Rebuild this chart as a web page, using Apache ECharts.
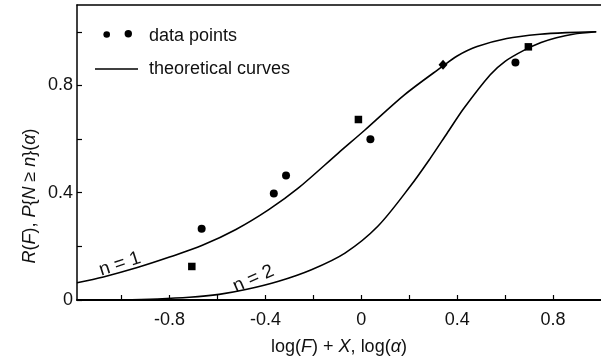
<!DOCTYPE html>
<html>
<head>
<meta charset="utf-8">
<script src="https://cdn.jsdelivr.net/npm/echarts@6/dist/echarts.min.js"></script>
<style>
  html, body { margin: 0; padding: 0; background: #fff; }
  #chart { width: 601px; height: 361px; }
</style>
</head>
<body>
<div id="chart"></div>
<script>
// axis ticks and labels
const xTickValues = [-1.0, -0.8, -0.6, -0.4, -0.2, 0, 0.2, 0.4, 0.6, 0.8];
const xLabelValues = [-0.8, -0.4, 0, 0.4, 0.8];
const yTickValues = [0, 0.2, 0.4, 0.6, 0.8, 1.0];
const yLabelValues = [0, 0.4, 0.8];

// theoretical curve n = 1
const n1X = [-1.186, -1.076, -0.938, -0.8, -0.663, -0.523, -0.386, -0.262, -0.096, 0.014, 0.18, 0.34, 0.4, 0.483, 0.607, 0.745, 0.855, 0.98];
const n1Y = [0.064, 0.086, 0.12, 0.16, 0.204, 0.263, 0.337, 0.418, 0.548, 0.633, 0.765, 0.872, 0.91, 0.945, 0.975, 0.991, 0.997, 1.0];

// theoretical curve n = 2
const n2X = [-1.186, -1.0, -0.85, -0.717, -0.593, -0.482, -0.345, -0.208, -0.068, 0.069, 0.205, 0.289, 0.358, 0.428, 0.538, 0.6, 0.676, 0.75, 0.814, 0.883, 0.98];
const n2Y = [0.0, 0.001, 0.004, 0.01, 0.021, 0.039, 0.07, 0.113, 0.175, 0.275, 0.425, 0.53, 0.622, 0.715, 0.84, 0.89, 0.93, 0.96, 0.978, 0.991, 1.0];

// measured points
const circleX = [-0.666, -0.365, -0.314, 0.038, 0.643];
const circleY = [0.266, 0.397, 0.464, 0.599, 0.886];
const squareX = [-0.707, -0.012, 0.697];
const squareY = [0.125, 0.673, 0.944];
const diamondX = [0.341];
const diamondY = [0.877];

// curve labels
const curveLabels = ["n = 1", "n = 2"];
const curveLabelX = [-1.007, -0.45];
const curveLabelY = [0.134, 0.079];
const curveLabelRot = [18, 24];

const zip = (xs, ys) => xs.map((x, i) => [x, ys[i]]);

const FONT = "Liberation Sans";
const INK = "#000";

const chart = echarts.init(document.getElementById("chart"));

const curveStyle = { color: INK, width: 1.6 };

const option = {
  backgroundColor: "#fff",
  animation: false,
  grid: { left: 77, right: -4.4, top: 5, bottom: 60.5 },
  xAxis: [
    {
      type: "value",
      min: -1.186,
      max: 1.0,
      splitLine: { show: false },
      axisLine: { lineStyle: { color: INK, width: 2 } },
      axisTick: {
        inside: true,
        length: 5,
        customValues: xTickValues,
        lineStyle: { color: INK, width: 1.2 },
      },
      axisLabel: {
        customValues: xLabelValues,
        margin: 11,
        color: "#111",
        fontSize: 18,
        fontFamily: FONT,
        formatter: (v) => String(Math.round(v * 10) / 10),
      },
      name: "log({i|F}) + {i|X}, log({i|α})",
      nameLocation: "middle",
      nameGap: 38,
      nameTextStyle: {
        color: "#111",
        fontSize: 18,
        fontFamily: FONT,
        rich: { i: { fontStyle: "italic", fontSize: 18, fontFamily: FONT, color: "#111" } },
      },
    },
    {
      type: "value",
      position: "top",
      min: -1.186,
      max: 1.0,
      splitLine: { show: false },
      axisLine: { show: true, onZero: false, lineStyle: { color: INK, width: 1.5 } },
      axisTick: { show: false },
      axisLabel: { show: false },
    },
  ],
  yAxis: {
    type: "value",
    min: 0,
    max: 1.1,
    splitLine: { show: false },
    axisLine: { show: true, onZero: false, lineStyle: { color: INK, width: 1.5 } },
    axisTick: {
      inside: true,
      length: 5,
      customValues: yTickValues,
      lineStyle: { color: INK, width: 1.2 },
    },
    axisLabel: {
      customValues: yLabelValues,
      margin: 4,
      color: "#111",
      fontSize: 18,
      fontFamily: FONT,
      formatter: (v) => String(Math.round(v * 10) / 10),
    },
  },
  graphic: [
    // y axis title
    {
      type: "text",
      x: 30,
      y: 196,
      rotation: Math.PI / 2,
      style: {
        text: "{i|R}({i|F}), {i|P}{{i|N} ≥ {i|n}}({i|α})",
        fill: "#111",
        font: "18px " + FONT,
        align: "center",
        verticalAlign: "middle",
        rich: { i: { fontStyle: "italic", fontSize: 18, fontFamily: FONT, fill: "#111" } },
      },
    },
    // legend
    { type: "circle", shape: { cx: 106.7, cy: 34.5, r: 3.3 }, style: { fill: INK } },
    { type: "circle", shape: { cx: 128.3, cy: 33.8, r: 3.7 }, style: { fill: INK } },
    {
      type: "text",
      x: 149,
      y: 36,
      style: { text: "data points", fill: "#111", font: "18px " + FONT, verticalAlign: "middle" },
    },
    { type: "line", shape: { x1: 95, y1: 69, x2: 138, y2: 69 }, style: { stroke: INK, lineWidth: 1.6 } },
    {
      type: "text",
      x: 149,
      y: 69,
      style: { text: "theoretical curves", fill: "#111", font: "18px " + FONT, verticalAlign: "middle" },
    },
  ],
  series: [
    {
      name: "n = 1",
      type: "line",
      data: zip(n1X, n1Y),
      smooth: 0.3,
      showSymbol: false,
      lineStyle: curveStyle,
    },
    {
      name: "n = 2",
      type: "line",
      data: zip(n2X, n2Y),
      smooth: 0.3,
      showSymbol: false,
      lineStyle: curveStyle,
    },
    {
      name: "circles",
      type: "scatter",
      data: zip(circleX, circleY),
      symbol: "circle",
      symbolSize: 8,
      itemStyle: { color: INK, opacity: 1 },
    },
    {
      name: "squares",
      type: "scatter",
      data: zip(squareX, squareY),
      symbol: "rect",
      symbolSize: 7.5,
      itemStyle: { color: INK, opacity: 1 },
    },
    {
      name: "diamonds",
      type: "scatter",
      data: zip(diamondX, diamondY),
      symbol: "diamond",
      symbolSize: [9, 10],
      itemStyle: { color: INK, opacity: 1 },
    },
    {
      name: "curve labels",
      type: "scatter",
      silent: true,
      symbolSize: 0,
      itemStyle: { opacity: 1 },
      data: curveLabels.map((t, i) => ({
        value: [curveLabelX[i], curveLabelY[i]],
        label: {
          show: true,
          position: "inside",
          formatter: t,
          rotate: curveLabelRot[i],
          color: "#111",
          textBorderWidth: 0,
          fontSize: 19,
          fontFamily: FONT,
        },
      })),
    },
  ],
};

chart.setOption(option);
</script>
</body>
</html>
